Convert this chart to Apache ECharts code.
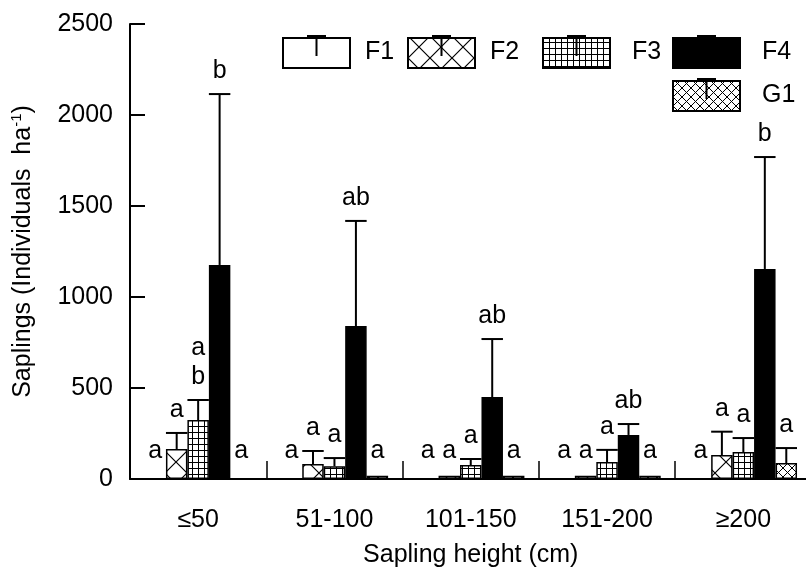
<!DOCTYPE html>
<html>
<head>
<meta charset="utf-8">
<script src="https://cdn.jsdelivr.net/npm/echarts@6/dist/echarts.min.js"></script>
<style>
html,body{margin:0;padding:0;background:#fff;}
#c{width:806px;height:571px;}
</style>
</head>
<body>
<div id="c"></div>
<script>
// ---- data ----
const categories = ['≤50', '51-100', '101-150', '151-200', '≥200'];
const seriesNames = ['F1', 'F2', 'F3', 'F4', 'G1'];

const F1 = [0, 0, 0, 0, 0];
const F2 = [165, 82, 18, 18, 132];
const F3 = [324, 70, 77, 93, 148];
const F4 = [1176, 840, 450, 242, 1154];
const G1 = [0, 18, 18, 18, 88];

// upper end of error bars (null = no error bar drawn)
const F1_errTop = [null, null, null, null, null];
const F2_errTop = [253, 154, null, null, 260];
const F3_errTop = [434, 115, 110, 160, 225];
const F4_errTop = [2115, 1418, 769, 302, 1769];
const G1_errTop = [null, null, null, null, 170];

// significance letters
const F1_letters = ['a', 'a', 'a', 'a', 'a'];
const F2_letters = ['a', 'a', 'a', 'a', 'a'];
const F3_letters = ['a\nb', 'a', 'a', 'a', 'a'];
const F4_letters = ['b', 'ab', 'ab', 'ab', 'b'];
const G1_letters = ['a', 'a', 'a', 'a', 'a'];

const yMin = 0, yMax = 2500, yStep = 500;

// ---- styling ----
const FONT = '"Liberation Sans", Arial, sans-serif';
const FS = 25;
const BAR_FRAC = 0.1575;

function makePattern(size, draw) {
  const c = document.createElement('canvas');
  c.width = size; c.height = size;
  const ctx = c.getContext('2d');
  ctx.fillStyle = '#fff';
  ctx.fillRect(0, 0, size, size);
  ctx.fillStyle = '#000';
  ctx.strokeStyle = '#000';
  draw(ctx, size);
  return { image: c, repeat: 'repeat' };
}
function diagCross(lw) {
  return function (ctx, s) {
    ctx.lineWidth = lw;
    ctx.beginPath();
    ctx.moveTo(-1, -1); ctx.lineTo(s + 1, s + 1);
    ctx.moveTo(s + 1, -1); ctx.lineTo(-1, s + 1);
    ctx.stroke();
  };
}
const fills = [
  '#ffffff',
  makePattern(22, diagCross(1.2)),
  makePattern(6, function (ctx, s) { ctx.fillRect(0, 0, 1, s); ctx.fillRect(0, 0, s, 1); }),
  '#000000',
  makePattern(9, diagCross(1))
];

const values = [F1, F2, F3, F4, G1];
const errTops = [F1_errTop, F2_errTop, F3_errTop, F4_errTop, G1_errTop];
const letters = [F1_letters, F2_letters, F3_letters, F4_letters, G1_letters];

const barSeries = seriesNames.map(function (name, i) {
  return {
    name: name,
    type: 'bar',
    data: values[i],
    barWidth: (BAR_FRAC * 100) + '%',
    barGap: '0%',
    itemStyle: { color: fills[i], borderColor: '#000', borderWidth: 1.5 },
    emphasis: { disabled: true },
    z: 2
  };
});

// error bars + letters
const annData = [];
const annLetters = [];
seriesNames.forEach(function (name, s) {
  categories.forEach(function (cat, k) {
    const e = errTops[s][k];
    annData.push([k, values[s][k], e == null ? values[s][k] : e, s, e == null ? 0 : 1]);
    annLetters.push(letters[s][k]);
  });
});

const annSeries = {
  name: 'annotations',
  type: 'custom',
  coordinateSystem: 'cartesian2d',
  z: 5,
  silent: true,
  encode: { x: 0, y: 2 },
  data: annData,
  renderItem: function (params, api) {
    const k = api.value(0), v = api.value(1), top = api.value(2), s = api.value(3), hasErr = api.value(4);
    const band = api.size([1, 0])[0];
    const bw = band * BAR_FRAC;
    const base = api.coord([k, 0]);
    const cx = base[0] + (s - 2) * bw;
    const yv = api.coord([k, v])[1];
    const yt = api.coord([k, top])[1];
    const children = [];
    if (hasErr) {
      children.push({ type: 'line', shape: { x1: cx, y1: yv, x2: cx, y2: yt }, style: { stroke: '#000', lineWidth: 2 } });
      children.push({ type: 'line', shape: { x1: cx - bw / 2, y1: yt, x2: cx + bw / 2, y2: yt }, style: { stroke: '#000', lineWidth: 2 } });
    }
    const ly = Math.min(yt, base[1] - 5) - 8;
    children.push({
      type: 'text',
      style: {
        text: annLetters[params.dataIndex], x: cx, y: ly,
        fill: '#000', font: FS + 'px ' + FONT, align: 'center', verticalAlign: 'bottom', lineHeight: 29
      }
    });
    return { type: 'group', children: children };
  }
};

const legendIcon = 'path://M0,2H67V32H0Z M33.5,0V20 M24,0H43';
const legendPos = [[282, 35, 10], [407, 35, 10], [542, 35, 17], [672, 35, 17], [672, 78, 17]];
const legends = seriesNames.map(function (name, i) {
  return {
    data: [name],
    left: legendPos[i][0],
    top: legendPos[i][1],
    padding: 0,
    itemWidth: 67,
    itemHeight: 32,
    icon: legendIcon,
    selectedMode: false,
    textStyle: { fontSize: FS, fontFamily: FONT, color: '#000', padding: [4, 0, 0, legendPos[i][2]] }
  };
});

const chart = echarts.init(document.getElementById('c'), null, { renderer: 'canvas' });
chart.setOption({
  animation: false,
  backgroundColor: '#fff',
  textStyle: { fontFamily: FONT },
  legend: legends,
  grid: { left: 130, top: 24, width: 681.5, height: 455, containLabel: false, outerBoundsMode: 'none' },
  xAxis: {
    type: 'category',
    data: categories,
    axisLine: { show: true, lineStyle: { color: '#000', width: 2 } },
    axisTick: { show: true, inside: true, length: 18, lineStyle: { color: '#000', width: 1.5 } },
    axisLabel: { color: '#000', fontSize: FS, fontFamily: FONT, margin: 29 },
    name: 'Sapling height (cm)',
    nameLocation: 'middle',
    nameGap: 64,
    nameTextStyle: { color: '#000', fontSize: FS, fontFamily: FONT }
  },
  yAxis: {
    type: 'value',
    min: yMin, max: yMax, interval: yStep,
    axisLine: { show: true, lineStyle: { color: '#000', width: 2 } },
    axisTick: { show: true, inside: true, length: 15, lineStyle: { color: '#000', width: 2 } },
    splitLine: { show: false },
    axisLabel: { color: '#000', fontSize: FS, fontFamily: FONT, margin: 17, formatter: function (v) { return String(v); } },
    name: '{n|Saplings (Individuals  ha}{s|-1}{n|)}',
    nameLocation: 'middle',
    nameGap: 93,
    nameTextStyle: {
      color: '#000', fontSize: FS, fontFamily: FONT,
      rich: {
        n: { fontSize: FS, fontFamily: FONT, color: '#000', lineHeight: 28 },
        s: { fontSize: 15, fontFamily: FONT, color: '#000', verticalAlign: 'top', lineHeight: 28 }
      }
    }
  },
  series: barSeries.concat([annSeries])
});
</script>
</body>
</html>
